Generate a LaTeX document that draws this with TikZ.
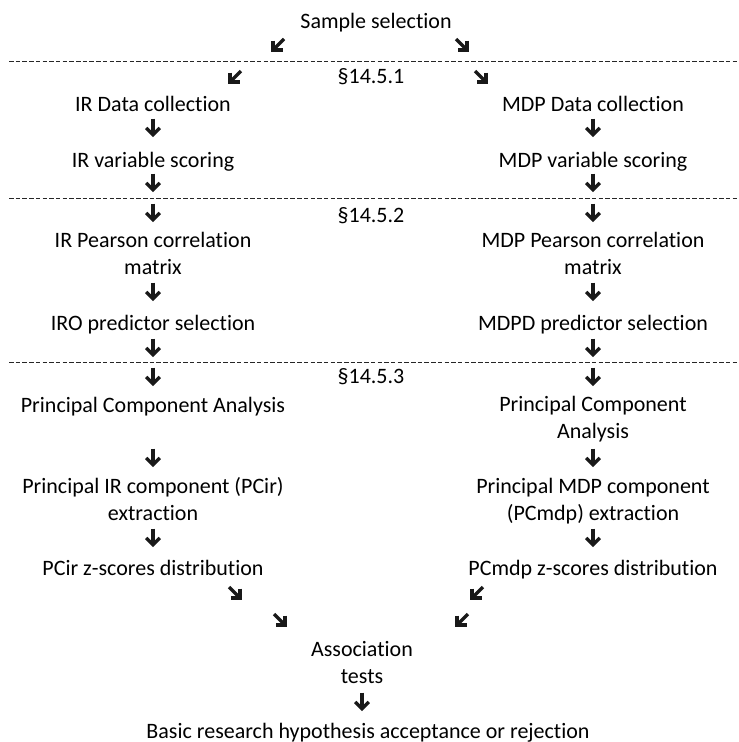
\documentclass[tikz,border=0pt]{standalone}
\usepackage{fontspec}
\setmainfont{Carlito}[Ligatures=NoCommon]
\begin{document}
\begin{tikzpicture}[x=1pt,y=-1pt,
  lbl/.style={anchor=base,inner sep=0pt,font=\fontsize{22}{26.5}\selectfont,align=center},
  sect/.style={draw=black!85,line width=0.9pt,dash pattern=on 4.5pt off 2.2pt},
  glyph/.style={draw=black!90,line width=3.3pt,line cap=butt,line join=miter},
  down/.pic={\draw[glyph] (0,-9.5)--(0,6); \draw[glyph] (-6.8,0)--(0,6.8)--(6.8,0);},
  sw/.pic={\draw[glyph] (-5,-4.5)--(-5,5)--(4.5,5); \draw[glyph] (-4.5,4.5)--(6,-6);},
  se/.pic={\draw[glyph] (5,-4.5)--(5,5)--(-4.5,5); \draw[glyph] (4.5,4.5)--(-6,-6);}
]
\useasboundingbox (0,0) rectangle (739,742);

% section separators
\draw[sect] (9,61.5) -- (739,61.5);
\draw[sect] (9,198) -- (739,198);
\draw[sect] (9,362) -- (739,362);

% section labels
\node[lbl] (s1) at (371,83) {§14.5.1};
\node[lbl] (s2) at (371,222) {§14.5.2};
\node[lbl] (s3) at (371,383) {§14.5.3};

% top
\node[lbl] (sample) at (376,28) {Sample selection};
\pic (t1) at (278,45) {sw};
\pic (t2) at (462,45) {se};
\pic (t3) at (235,77) {sw};
\pic (t4) at (481,77) {se};

% IR column (two-line nodes are placed by the baseline of their last line)
\node[lbl] (ir1) at (153,111) {IR Data collection};
\pic (l1) at (153,128) {down};
\node[lbl] (ir2) at (153,167) {IR variable scoring};
\pic (l2) at (153,183) {down};
\pic (l3) at (153,213) {down};
\node[lbl] (ir3) at (153,274) {IR Pearson correlation\\matrix};
\pic (l4) at (153,292) {down};
\node[lbl] (ir4) at (153,330) {IRO predictor selection};
\pic (l5) at (153,348) {down};
\pic (l6) at (153,377) {down};
\node[lbl] (ir5) at (153,412) {Principal Component Analysis};
\pic (l7) at (153,458) {down};
\node[lbl] (ir6) at (153,520) {Principal IR component (PCir)\\extraction};
\pic (l8) at (153,538) {down};
\node[lbl] (ir7) at (153,575) {PCir z-scores distribution};
\pic (l9) at (235,593) {se};
\pic (l10) at (280,620) {se};

% MDP column
\node[lbl] (md1) at (593,111) {MDP Data collection};
\pic (r1) at (593,128) {down};
\node[lbl] (md2) at (593,167) {MDP variable scoring};
\pic (r2) at (593,183) {down};
\pic (r3) at (593,213) {down};
\node[lbl] (md3) at (593,274) {MDP Pearson correlation\\matrix};
\pic (r4) at (593,292) {down};
\node[lbl] (md4) at (593,330) {MDPD predictor selection};
\pic (r5) at (593,348) {down};
\pic (r6) at (593,377) {down};
\node[lbl] (md5) at (593,438) {Principal Component\\Analysis};
\pic (r7) at (593,458) {down};
\node[lbl] (md6) at (593,520) {Principal MDP component\\(PCmdp) extraction};
\pic (r8) at (593,538) {down};
\node[lbl] (md7) at (593,575) {PCmdp z-scores distribution};
\pic (r9) at (477,593) {sw};
\pic (r10) at (462,620) {sw};

% bottom
\node[lbl] (assoc) at (362,683) {Association\\tests};
\pic (b1) at (362,702) {down};
\node[lbl] (basic) at (368,738) {Basic research hypothesis acceptance or rejection};
\end{tikzpicture}
\end{document}
